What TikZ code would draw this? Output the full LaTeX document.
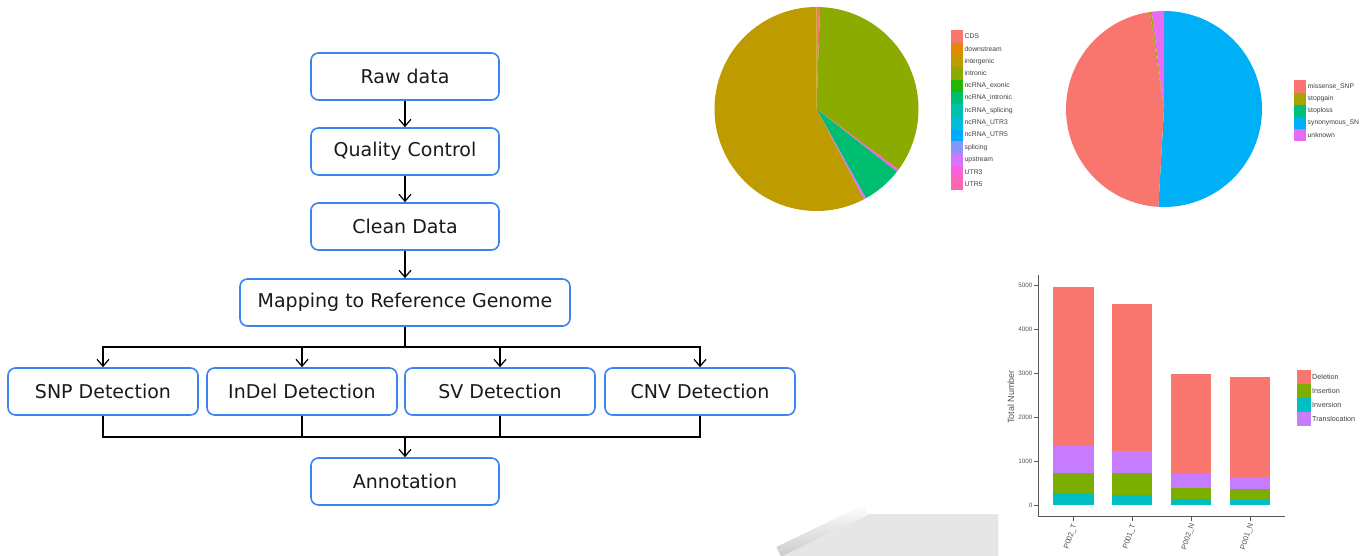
\documentclass[tikz,border=0pt]{standalone}
\usepackage{fontspec}
\setmainfont{DejaVu Sans}
\newfontfamily\chartfont{Liberation Sans}
\usetikzlibrary{arrows.meta}
\definecolor{boxblue}{HTML}{3A84F2}
\definecolor{txtblack}{HTML}{1A1A1A}
\definecolor{cA}{HTML}{F8766D}
\definecolor{cB}{HTML}{E18A00}
\definecolor{cC}{HTML}{BE9C00}
\definecolor{cD}{HTML}{8CAB00}
\definecolor{cE}{HTML}{24B700}
\definecolor{cF}{HTML}{00BE70}
\definecolor{cG}{HTML}{00C1AB}
\definecolor{cH}{HTML}{00BBDA}
\definecolor{cI}{HTML}{00ACFC}
\definecolor{cJ}{HTML}{8B93FF}
\definecolor{cK}{HTML}{D575FE}
\definecolor{cL}{HTML}{F962DD}
\definecolor{cM}{HTML}{FF65AC}
\definecolor{pB}{HTML}{A3A500}
\definecolor{pC}{HTML}{00BF7D}
\definecolor{pD}{HTML}{00B0F6}
\definecolor{pE}{HTML}{E76BF3}
\definecolor{bDel}{HTML}{F8766D}
\definecolor{bIns}{HTML}{7CAE00}
\definecolor{bInv}{HTML}{00BFC4}
\definecolor{bTra}{HTML}{C77CFF}
\definecolor{axisgray}{HTML}{555555}
\definecolor{curlgray}{HTML}{E6E6E6}
\definecolor{curldark}{HTML}{CBCBCB}
\begin{document}
\begin{tikzpicture}[x=1pt,y=-1pt,
  flowbox/.style={draw=boxblue, line width=1.6pt, rounded corners=7.5pt, fill=white,
    minimum height=47pt, text=txtblack, font=\fontsize{19}{21}\selectfont, inner sep=0pt},
  link/.style={line width=1.2pt, draw=black},
  arr/.style={link, -{Straight Barb[length=7pt,width=12pt,line width=1.2pt]}},
  legtext/.style={anchor=west, inner sep=0pt, text=black!75, font=\chartfont\fontsize{6.8}{7}\selectfont},
  ticktext/.style={inner sep=0pt, text=axisgray, font=\chartfont\fontsize{6.3}{7}\selectfont},
  axisline/.style={draw=axisgray, line width=0.9pt}
]
\useasboundingbox (0,0) rectangle (1360,556);
\fill[white] (0,0) rectangle (1360,556);

% ---------- page curl ----------
\begin{scope}[shift={(783,556)}, rotate=25.8]
  \shade[top color=white, bottom color=curldark] (-2,-11) rectangle (97,0);
\end{scope}
\fill[white] (760,556) -- (760,560) -- (1000,560) -- (1000,556) -- cycle;
\fill[curlgray] (783,556) -- (870,514) -- (998.3,514) -- (998.3,556) -- cycle;
\fill[white] (866,505) rectangle (1000,514);

% ---------- flowchart ----------
\node[flowbox, minimum width=188pt] (raw) at (405,76.5) {Raw data};
\node[flowbox, minimum width=188pt] (qc) at (405,151.5) {Quality Control};
\node[flowbox, minimum width=188pt] (clean) at (405,226.5) {Clean Data};
\node[flowbox, minimum width=330pt] (map) at (405,302.5) {Mapping to Reference Genome};
\node[flowbox, minimum width=190pt] (snp) at (103,391.5) {SNP Detection};
\node[flowbox, minimum width=190pt] (indel) at (302,391.5) {InDel Detection};
\node[flowbox, minimum width=190pt] (sv) at (500,391.5) {SV Detection};
\node[flowbox, minimum width=190pt] (cnv) at (700,391.5) {CNV Detection};
\node[flowbox, minimum width=188pt] (ann) at (405,481.5) {Annotation};
\coordinate (split) at (405,347);
\coordinate (merge) at (405,437);
\draw[arr] (raw.south) -- (qc.north);
\draw[arr] (qc.south) -- (clean.north);
\draw[arr] (clean.south) -- (map.north);
\draw[link] (map.south) -- (split);
\foreach \n in {snp,indel,sv,cnv} {
  \draw[arr] (split) -| (\n.north);
  \draw[link] (\n.south) |- (merge);
}
\draw[arr] (merge) -- (ann.north);

% ---------- pie 1 ----------
\begin{scope}[shift={(816.5,109)}, yscale=-1]
  \def\r{102}
  \foreach \c/\a/\b in {cA/90/88, cD/88/-36.5, cL/-36.5/-38, cF/-38/-61, cK/-61/-62.3, cC/-62.3/-270} {
    \fill[\c] (0,0) -- (\a:\r) arc[start angle=\a, end angle=\b, radius=\r] -- cycle;
  }
\end{scope}
\foreach \c/\t [count=\i] in {cA/CDS, cB/downstream, cC/intergenic, cD/intronic, cE/ncRNA\_exonic,
  cF/ncRNA\_intronic, cG/ncRNA\_splicing, cH/ncRNA\_UTR3, cI/ncRNA\_UTR5, cJ/splicing,
  cK/upstream, cL/UTR3, cM/UTR5} {
  \fill[\c] (950.5,{30.5+(\i-1)*12.3}) rectangle (962.5,{30.5+\i*12.3});
  \node[legtext] (pa\i) at (964.5,{30.5+(\i-0.5)*12.3}) {\t};
}

% ---------- pie 2 ----------
\begin{scope}[shift={(1164,109)}, yscale=-1]
  \def\r{98}
  \foreach \c/\a/\b in {pD/90/-93.3, cA/-93.3/-261.7, pB/-261.7/-262.8, pE/-262.8/-270} {
    \fill[\c] (0,0) -- (\a:\r) arc[start angle=\a, end angle=\b, radius=\r] -- cycle;
  }
\end{scope}
\foreach \c/\t [count=\i] in {cA/missense\_SNP, pB/stopgain, pC/stoploss, pD/synonymous\_SN, pE/unknown} {
  \fill[\c] (1294,{80.5+(\i-1)*12.1}) rectangle (1306,{80.5+\i*12.1});
  \node[legtext] (pb\i) at (1307.5,{80.5+(\i-0.5)*12.1}) {\t};
}

% ---------- bar chart ----------
\foreach \xa/\xb/\a/\b/\c/\d in {
  1052.7/1094/493.3/472.7/445.7/286,
  1111.7/1152.7/495.3/472.7/451/303.7,
  1170.7/1211.7/499/487.7/474/373.3,
  1229.3/1270.7/499.7/489.3/477.3/376} {
  \fill[bInv] (\xa,505) rectangle (\xb,\a);
  \fill[bIns] (\xa,\a) rectangle (\xb,\b);
  \fill[bTra] (\xa,\b) rectangle (\xb,\c);
  \fill[bDel] (\xa,\c) rectangle (\xb,\d);
  \draw[white, line width=0.5pt] (\xa,505) rectangle (\xb,\d);
}
\draw[axisline] (1038.3,275) -- (1038.3,516.7) -- (1285,516.7);
\foreach \v [count=\i] in {0,1000,2000,3000,4000,5000} {
  \draw[axisline] (1034,{505-(\i-1)*43.86}) -- (1038.3,{505-(\i-1)*43.86});
  \node[ticktext, anchor=east] (yt\i) at (1032.5,{505-(\i-1)*43.86}) {\v};
}
\node[rotate=90, inner sep=0pt, text=axisgray, font=\chartfont\fontsize{9}{10}\selectfont] (ylab) at (1011,397) {Total Number};
\foreach \xc/\t [count=\i] in {1073.3/P002\_T, 1132.2/P001\_T, 1191.2/P002\_N, 1250/P001\_N} {
  \draw[axisline] (\xc,516.7) -- (\xc,521);
  \node[rotate=72, anchor=east, inner sep=0pt, text=axisgray, font=\chartfont\fontsize{7.5}{8}\selectfont] (xt\i) at (\xc+1.5,524) {\t};
}
\foreach \c/\t [count=\i] in {bDel/Deletion, bIns/Insertion, bInv/Inversion, bTra/Translocation} {
  \fill[\c] (1296.7,{370+(\i-1)*13.9}) rectangle (1310.7,{370+\i*13.9});
  \node[legtext, font=\chartfont\fontsize{7.2}{8}\selectfont] (lg\i) at (1312,{370+(\i-0.5)*13.9}) {\t};
}
\end{tikzpicture}
\end{document}
